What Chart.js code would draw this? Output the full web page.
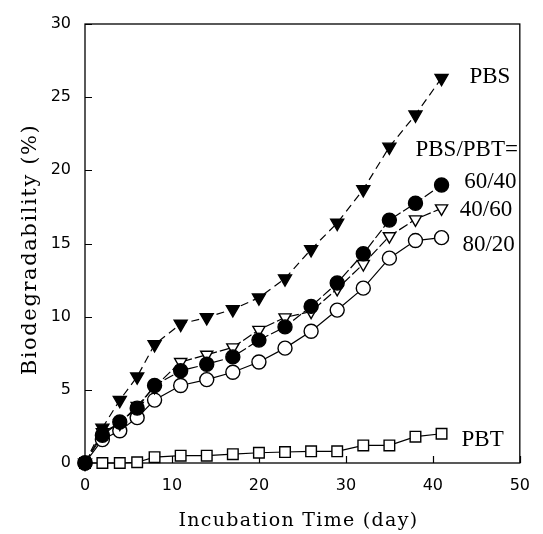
<!DOCTYPE html>
<html>
<head>
<meta charset="utf-8">
<script src="https://cdn.jsdelivr.net/npm/chart.js@4.4.1/dist/chart.umd.min.js"></script>
<style>
  html, body { margin: 0; padding: 0; background: #fff; }
  #wrap { width: 543px; height: 534px; }
</style>
</head>
<body>
<div id="wrap"><canvas id="c" width="543" height="534"></canvas></div>
<script>
// ---- data ----
const days = [0, 2, 4, 6, 8, 11, 14, 17, 20, 23, 26, 29, 32, 35, 38, 41];
const pbs    = [0, 2.4, 4.3, 5.9, 8.1, 9.5, 9.95, 10.5, 11.3, 12.6, 14.6, 16.4, 18.7, 21.6, 23.8, 26.3];
const b60_40 = [0, 1.9, 2.8, 3.75, 5.3, 6.3, 6.75, 7.25, 8.4, 9.3, 10.7, 12.3, 14.3, 16.6, 17.75, 19.0];
const b40_60 = [0, 2.1, 2.7, 3.9, 5.2, 6.9, 7.4, 7.9, 9.1, 9.95, 10.35, 11.9, 13.6, 15.5, 16.65, 17.4];
const b80_20 = [0, 1.6, 2.2, 3.1, 4.3, 5.3, 5.7, 6.2, 6.9, 7.85, 9.0, 10.45, 11.95, 14.0, 15.2, 15.4];
const pbt    = [0, 0, 0, 0.05, 0.4, 0.5, 0.5, 0.6, 0.7, 0.75, 0.8, 0.8, 1.2, 1.2, 1.8, 2.0];
const xTicks = [0, 10, 20, 30, 40, 50];
const yTicks = [0, 5, 10, 15, 20, 25, 30];
const xTitle = 'Incubation Time (day)';
const yTitle = 'Biodegradability (%)';
const labelTexts = ['PBS', 'PBS/PBT=', '60/40', '40/60', '80/20', 'PBT'];
// label anchor positions in data coordinates (left edge, vertical middle)
const labelAt = [[44.2, 26.4], [38.0, 21.4], [43.6, 19.2], [43.1, 17.3], [43.4, 14.9], [43.3, 1.55]];

const pts = arr => days.map((d, i) => ({ x: d, y: arr[i] }));

const frameAndTicks = {
  id: 'frameAndTicks',
  beforeDatasetsDraw(chart) {
    const { ctx, chartArea: a, scales: { x, y } } = chart;
    ctx.save();
    ctx.strokeStyle = '#000';
    ctx.lineWidth = 1.3;
    ctx.strokeRect(a.left, a.top, a.right - a.left, a.bottom - a.top);
    ctx.lineWidth = 1.2;
    ctx.beginPath();
    xTicks.forEach(v => {
      const px = Math.round(x.getPixelForValue(v)) + 0.5;
      ctx.moveTo(px, a.bottom); ctx.lineTo(px, a.bottom - 7);
    });
    yTicks.forEach(v => {
      const py = Math.round(y.getPixelForValue(v)) + 0.5;
      ctx.moveTo(a.left, py); ctx.lineTo(a.left + 7, py);
    });
    ctx.stroke();

    // axis titles
    ctx.fillStyle = '#000';
    ctx.textAlign = 'center';
    ctx.textBaseline = 'middle';
    ctx.font = '19px "DejaVu Serif", serif';
    ctx.letterSpacing = '1.3px';
    ctx.fillText(xTitle, (a.left + a.right) / 2 - 4, 521);
    ctx.save();
    ctx.translate(31, (a.top + a.bottom) / 2 + 6);
    ctx.rotate(-Math.PI / 2);
    ctx.font = '21px "DejaVu Serif", serif';
    ctx.letterSpacing = '1.6px';
    ctx.fillText(yTitle, 0, 0);
    ctx.restore();
    ctx.restore();
  },
  afterDatasetsDraw(chart) {
    const { ctx, scales: { x, y } } = chart;
    ctx.save();
    ctx.fillStyle = '#000';
    ctx.font = '23px "Liberation Serif", "Times New Roman", serif';
    ctx.textBaseline = 'middle';
    ctx.textAlign = 'left';
    labelTexts.forEach((t, i) => {
      ctx.fillText(t, x.getPixelForValue(labelAt[i][0]), y.getPixelForValue(labelAt[i][1]));
    });
    ctx.restore();
  }
};

const base = {
  borderColor: '#000',
  pointBorderColor: '#000',
  borderWidth: 1.2,
  pointBorderWidth: 1.4,
  tension: 0,
  clip: false,
  fill: false
};

new Chart(document.getElementById('c'), {
  type: 'line',
  data: {
    datasets: [
      Object.assign({}, base, { label: '60/40', data: pts(b60_40), pointStyle: 'circle', pointRadius: 7,
        pointBackgroundColor: '#000', borderDash: [10, 3], order: 0 }),
      Object.assign({}, base, { label: 'PBS', data: pts(pbs), pointStyle: 'triangle', pointRotation: 180, pointRadius: 7.5,
        pointBackgroundColor: '#000', borderDash: [8, 5], order: 1 }),
      Object.assign({}, base, { label: '40/60', data: pts(b40_60), pointStyle: 'triangle', pointRotation: 180, pointRadius: 7,
        pointBackgroundColor: '#fff', borderDash: [10, 3], order: 2 }),
      Object.assign({}, base, { label: '80/20', data: pts(b80_20), pointStyle: 'circle', pointRadius: 7,
        pointBackgroundColor: '#fff', order: 3 }),
      Object.assign({}, base, { label: 'PBT', data: pts(pbt), pointStyle: 'rect', pointRadius: 7.5,
        pointBackgroundColor: '#fff', order: 4 })
    ]
  },
  options: {
    responsive: false,
    animation: false,
    devicePixelRatio: 1,
    layout: { padding: { top: 24, right: 13, bottom: 0, left: 0 } },
    plugins: { legend: { display: false }, tooltip: { enabled: false } },
    scales: {
      x: {
        type: 'linear', min: 0, max: 50,
        afterBuildTicks: s => { s.ticks = xTicks.map(v => ({ value: v })); },
        afterFit: s => { s.height = 71; },
        grid: { display: false, drawTicks: false },
        border: { display: false },
        ticks: { color: '#000', padding: 13, font: { family: '"DejaVu Sans", sans-serif', size: 16 } },
        title: { display: false }
      },
      y: {
        type: 'linear', min: 0, max: 30,
        afterBuildTicks: s => { s.ticks = yTicks.map(v => ({ value: v })); },
        afterFit: s => { s.width = 85; },
        grid: { display: false, drawTicks: false },
        border: { display: false },
        ticks: { color: '#000', padding: 14, font: { family: '"DejaVu Sans", sans-serif', size: 16 } },
        title: { display: false }
      }
    }
  },
  plugins: [frameAndTicks]
});
</script>
</body>
</html>
